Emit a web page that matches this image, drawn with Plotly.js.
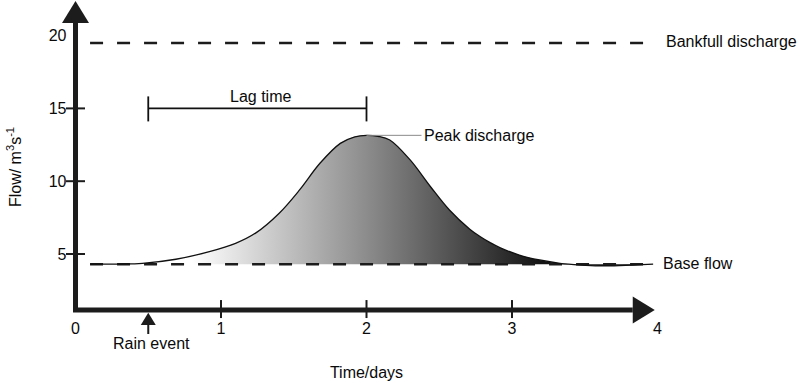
<!DOCTYPE html>
<html><head><meta charset="utf-8">
<script src="https://cdn.plot.ly/plotly-3.0.1.min.js"></script>
<style>html,body{margin:0;padding:0;background:#fff}#chart{width:800px;height:383px}</style>
</head><body><div id="chart"></div>
<script>
const days = [0.10,0.30,0.46,0.69,0.92,1.10,1.24,1.40,1.54,1.68,1.82,1.92,2.00,2.08,2.16,2.30,2.44,2.57,2.71,2.78,2.85,2.92,3.05,3.19,3.33,3.47,3.60,3.74,3.97];
const flow = [4.30,4.31,4.36,4.64,5.16,5.73,6.45,7.80,9.40,11.23,12.60,13.05,13.15,13.08,12.83,11.46,9.62,8.02,6.70,6.20,5.78,5.42,4.93,4.59,4.36,4.24,4.18,4.20,4.30];
const refDays = [0.10, 3.98];
const baseFlow = [4.3, 4.3];
const bankfullFlow = [19.5, 19.5];
const lagDays = [0.5, 2.0];
const lagFlow = [15, 15];
const rainDays = [0.5];
const xTickVals = [0, 1, 2, 3, 4];
const xTickText = ['0', '1', '2', '3', '4'];
const yTickVals = [5, 10, 15, 20];
const yTickText = ['5', '10', '15', '20'];
const xTickMarks = [1, 2, 3];
const yTickMarks = [5, 10, 15];

// ---- layout constants ----
const X_RANGE = [-0.519, 4.519];
const Y_RANGE = [-0.495, 22.445];
const AXIS_Y = 1.15;      // flow level at which the time axis is drawn
const X_AXIS_END = 3.83;  // base of the time-axis arrowhead
const Y_AXIS_END = 20.87; // base of the flow-axis arrowhead
const INK = '#1c1c1c';
const FONT = 'Liberation Sans, Arial, Helvetica, sans-serif';

const traces = [
  { x: refDays, y: baseFlow, mode: 'lines', line: {color: INK, width: 2.5, dash: '13px,14px'}, hoverinfo: 'skip' },
  { x: days, y: flow, mode: 'lines', fill: 'tonexty',
    fillgradient: {type: 'horizontal', start: 0.8, stop: 3.2,
      colorscale: [[0, '#ffffff'], [0.5, '#8c8c8c'], [1, '#141414']]},
    line: {color: '#111', width: 1.3, shape: 'spline', smoothing: 1}, hoverinfo: 'skip' },
  { x: refDays, y: bankfullFlow, mode: 'lines', line: {color: INK, width: 2.5, dash: '13px,14px'}, hoverinfo: 'skip' },
  { x: lagDays, y: lagFlow, mode: 'lines', line: {color: '#111', width: 1.8}, hoverinfo: 'skip' }
];

const shapes = [];
// axes (L shaped path, mitred corner)
shapes.push({type: 'path', xref: 'x', yref: 'y',
  path: `M0,${Y_AXIS_END} L0,${AXIS_Y} L${X_AXIS_END},${AXIS_Y}`,
  line: {color: INK, width: 5}});
// arrowheads
shapes.push({type: 'path', xref: 'x', yref: 'y', xsizemode: 'pixel', ysizemode: 'pixel',
  xanchor: 0, yanchor: Y_AXIS_END, path: 'M-13.5,0 L13.5,0 L0,22 Z',
  fillcolor: INK, line: {width: 0}});
shapes.push({type: 'path', xref: 'x', yref: 'y', xsizemode: 'pixel', ysizemode: 'pixel',
  xanchor: X_AXIS_END, yanchor: AXIS_Y, path: 'M0,-13.5 L0,13.5 L22,0 Z',
  fillcolor: INK, line: {width: 0}});
// tick marks crossing the axes
yTickMarks.forEach(v => shapes.push({type: 'line', xref: 'x', yref: 'y', xsizemode: 'pixel',
  xanchor: 0, x0: -9.5, x1: 9.5, y0: v, y1: v, line: {color: INK, width: 2}}));
xTickMarks.forEach(v => shapes.push({type: 'line', xref: 'x', yref: 'y', ysizemode: 'pixel',
  yanchor: AXIS_Y, y0: -8, y1: 10, x0: v, x1: v, line: {color: INK, width: 2}}));
// lag-time end caps
lagDays.forEach((d, i) => shapes.push({type: 'line', xref: 'x', yref: 'y', ysizemode: 'pixel',
  yanchor: lagFlow[i], y0: -13, y1: 12, x0: d, x1: d, line: {color: '#111', width: 1.8}}));
// rain-event arrow
rainDays.forEach(d => {
  shapes.push({type: 'path', xref: 'x', yref: 'y', xsizemode: 'pixel', ysizemode: 'pixel',
    xanchor: d, yanchor: AXIS_Y, path: 'M0,-2.7 L-7.5,-15 L7.5,-15 Z', fillcolor: INK, line: {width: 0}});
  shapes.push({type: 'line', xref: 'x', yref: 'y', ysizemode: 'pixel', yanchor: AXIS_Y,
    y0: -14, y1: -25, x0: d, x1: d, line: {color: INK, width: 2}});
});

// peak of the hydrograph
let iPeak = 0;
flow.forEach((v, i) => { if (v > flow[iPeak]) iPeak = i; });

const txt = {family: FONT, size: 16, color: '#0a0a0a'};
const annotations = [
  {x: (lagDays[0] + lagDays[1]) / 2, y: lagFlow[0], yshift: 12, text: 'Lag time', showarrow: false, font: txt, xshift: 3},
  {x: days[iPeak], y: flow[iPeak], text: 'Peak discharge', showarrow: true, arrowhead: 0,
   arrowcolor: '#8a8a8a', arrowwidth: 1, ax: 55, ay: 0, xanchor: 'left', font: txt},
  {x: refDays[1], y: bankfullFlow[0], text: 'Bankfull discharge', showarrow: false, xanchor: 'left', xshift: 9, yshift: 1, font: txt},
  {x: refDays[1], y: baseFlow[0], text: 'Base flow', showarrow: false, xanchor: 'left', xshift: 6, yshift: 1, font: txt},
  {x: rainDays[0], y: AXIS_Y, yshift: -33, xshift: 3, text: 'Rain event', showarrow: false, font: txt}
];

const layout = {
  width: 800, height: 383,
  margin: {l: 0, r: 67, t: 0, b: 49},
  paper_bgcolor: '#fff', plot_bgcolor: '#fff',
  showlegend: false,
  font: txt,
  xaxis: {range: X_RANGE, anchor: 'free',
    position: (AXIS_Y - Y_RANGE[0]) / (Y_RANGE[1] - Y_RANGE[0]),
    tickmode: 'array', tickvals: xTickVals, ticktext: xTickText, ticks: '', ticklabelstandoff: 7,
    showgrid: false, zeroline: false, showline: false, tickfont: txt,
    title: {text: 'Time/days', font: txt, standoff: 30}},
  yaxis: {range: Y_RANGE, anchor: 'free',
    position: (0 - X_RANGE[0]) / (X_RANGE[1] - X_RANGE[0]),
    tickmode: 'array', tickvals: yTickVals, ticktext: yTickText, ticks: '', ticklabelstandoff: 9,
    showgrid: false, zeroline: false, showline: false, tickfont: txt,
    title: {text: 'Flow/ m<sup>3</sup>s<sup>-1</sup>', font: txt, standoff: 22}},
  shapes: shapes,
  annotations: annotations
};

Plotly.newPlot('chart', traces, layout, {staticPlot: true, displayModeBar: false});
</script>
</body></html>
